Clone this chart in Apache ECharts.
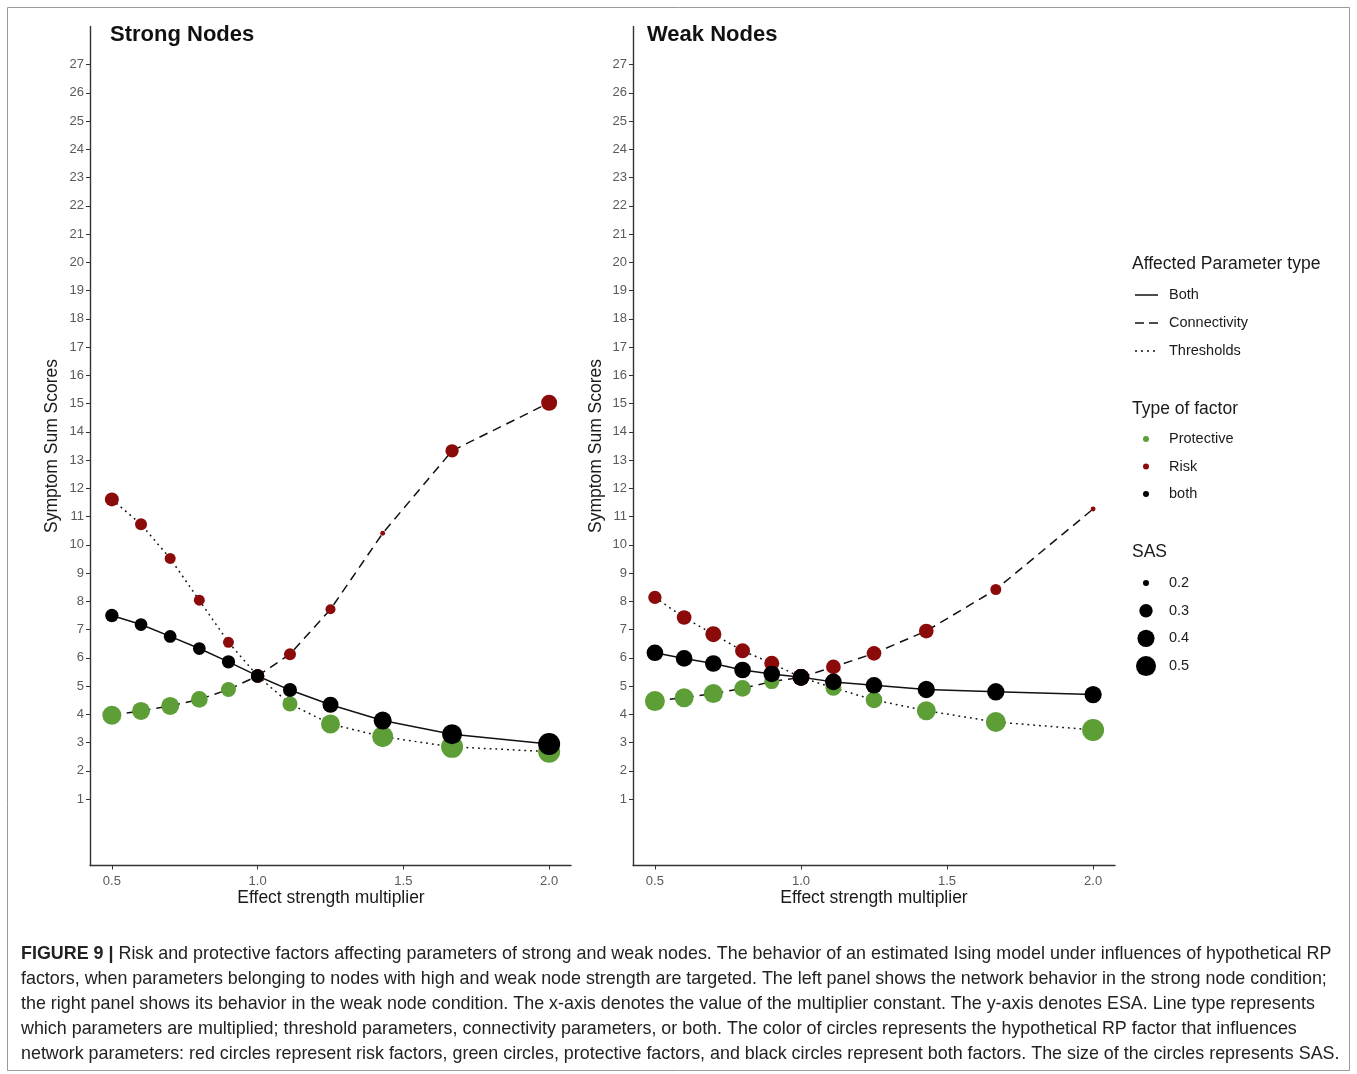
<!DOCTYPE html>
<html>
<head>
<meta charset="utf-8">
<script src="https://cdn.jsdelivr.net/npm/echarts@6.0.0/dist/echarts.min.js"></script>
<style>
html,body{margin:0;padding:0;background:#fff;}
#chart{width:1357px;height:1074px;}
</style>
</head>
<body>
<div id="chart"></div>
<script>
// ---------- data ----------
const xLow = [0.5, 0.6, 0.7, 0.8, 0.9, 1.0];
const xHigh = [1.0, 1.111, 1.25, 1.429, 1.667, 2.0];
const xAll = [0.5, 0.6, 0.7, 0.8, 0.9, 1.0, 1.111, 1.25, 1.429, 1.667, 2.0];
const xTicks = [0.5, 1.0, 1.5, 2.0];
const yTicks = [1,2,3,4,5,6,7,8,9,10,11,12,13,14,15,16,17,18,19,20,21,22,23,24,25,26,27];

// Strong nodes
const strongBothY   = [7.50, 7.18, 6.76, 6.33, 5.86, 5.36, 4.86, 4.34, 3.78, 3.30, 2.95];
const strongBothSAS = [0.298, 0.285, 0.285, 0.285, 0.298, 0.298, 0.314, 0.366, 0.428, 0.499, 0.58];
const strongRiskThrY   = [11.61, 10.73, 9.52, 8.04, 6.55, 5.36];
const strongRiskThrSAS = [0.314, 0.271, 0.253, 0.253, 0.253, 0.298];
const strongRiskConY   = [5.36, 6.13, 7.72, 10.41, 13.33, 15.03];
const strongRiskConSAS = [0.298, 0.271, 0.238, 0.196, 0.298, 0.366];
const strongProtConY   = [3.97, 4.12, 4.30, 4.53, 4.88, 5.36];
const strongProtConSAS = [0.462, 0.428, 0.428, 0.386, 0.339, 0.298];
const strongProtThrY   = [5.36, 4.37, 3.66, 3.21, 2.85, 2.68];
const strongProtThrSAS = [0.298, 0.339, 0.462, 0.539, 0.58, 0.58];

// Weak nodes
const weakBothY   = [6.18, 5.98, 5.80, 5.57, 5.43, 5.31, 5.15, 5.03, 4.88, 4.80, 4.70];
const weakBothSAS = [0.386, 0.386, 0.386, 0.386, 0.386, 0.386, 0.386, 0.386, 0.405, 0.405, 0.405];
const weakRiskThrY   = [8.14, 7.43, 6.84, 6.25, 5.81, 5.31];
const weakRiskThrSAS = [0.298, 0.331, 0.366, 0.339, 0.339, 0.386];
const weakRiskConY   = [5.31, 5.68, 6.16, 6.95, 8.42, 11.27];
const weakRiskConSAS = [0.386, 0.331, 0.331, 0.331, 0.253, 0.196];
const weakProtConY   = [4.47, 4.59, 4.74, 4.92, 5.16, 5.31];
const weakProtConSAS = [0.499, 0.462, 0.462, 0.386, 0.339, 0.386];
const weakProtThrY   = [5.31, 4.94, 4.51, 4.13, 3.73, 3.45];
const weakProtThrSAS = [0.386, 0.366, 0.386, 0.462, 0.499, 0.58];

const legendLineTypes = ['Both', 'Connectivity', 'Thresholds'];
const legendFactors = ['Protective', 'Risk', 'both'];
const legendSAS = [0.2, 0.3, 0.4, 0.5];

const captionLines = [
  ' Risk and protective factors affecting parameters of strong and weak nodes. The behavior of an estimated Ising model under influences of hypothetical RP',
  'factors, when parameters belonging to nodes with high and weak node strength are targeted. The left panel shows the network behavior in the strong node condition;',
  'the right panel shows its behavior in the weak node condition. The x-axis denotes the value of the multiplier constant. The y-axis denotes ESA. Line type represents',
  'which parameters are multiplied; threshold parameters, connectivity parameters, or both. The color of circles represents the hypothetical RP factor that influences',
  'network parameters: red circles represent risk factors, green circles, protective factors, and black circles represent both factors. The size of the circles represents SAS.'
];

// ---------- styles ----------
const GREEN = '#5d9e37';
const RED = '#8b0a0a';
const BLACK = '#000000';
const FONT = 'Liberation Sans, Arial, sans-serif';
const DASH = [9, 6];
const DOT = [1.8, 4];

function sasSize(s) { return 4 + 29 * Math.sqrt(Math.max(0, s - 0.195)); }
function pts(xs, ys, ss) { return xs.map((x, i) => [x, ys[i], ss[i]]); }
function line(xs, ys) { return xs.map((x, i) => [x, ys[i]]); }

const grids = [
  {left: 90, top: 26.5, width: 481, height: 839},
  {left: 633, top: 26.5, width: 482, height: 839}
];

function xAxis(gi) {
  return {
    type: 'value', gridIndex: gi, min: 0.425, max: 2.075,
    axisLine: {show: true, onZero: false, lineStyle: {color: '#333', width: 1.4}},
    axisTick: {show: true, length: 4, customValues: xTicks, lineStyle: {color: '#333', width: 1}},
    axisLabel: {show: true, customValues: xTicks, margin: 9, color: '#5a5a5a', fontSize: 13, fontFamily: FONT,
      formatter: v => v.toFixed(1)},
    splitLine: {show: false}
  };
}
function yAxis(gi) {
  return {
    type: 'value', gridIndex: gi, min: -1.35, max: 28.35,
    axisLine: {show: true, onZero: false, lineStyle: {color: '#333', width: 1.4}},
    axisTick: {show: true, length: 4, customValues: yTicks, lineStyle: {color: '#333', width: 1}},
    axisLabel: {show: true, customValues: yTicks, margin: 6, color: '#5a5a5a', fontSize: 13, fontFamily: FONT},
    splitLine: {show: false}
  };
}

function panelSeries(gi, d) {
  const lineS = (data, type) => ({
    type: 'line', xAxisIndex: gi, yAxisIndex: gi, data: data, showSymbol: false, symbol: 'none',
    lineStyle: {color: '#111', width: 1.5, type: type}, z: 2, silent: true, animation: false
  });
  const scat = (data, color) => ({
    type: 'scatter', xAxisIndex: gi, yAxisIndex: gi, data: data,
    symbolSize: v => sasSize(v[2]), itemStyle: {color: color, opacity: 1}, z: 3, animation: false
  });
  return [
    lineS(line(xAll, d.bothY), 'solid'),
    lineS(line(xLow, d.protConY), DASH),
    lineS(line(xHigh, d.riskConY), DASH),
    lineS(line(xLow, d.riskThrY), DOT),
    lineS(line(xHigh, d.protThrY), DOT),
    scat(pts(xLow, d.protConY, d.protConSAS), GREEN),
    scat(pts(xHigh, d.protThrY, d.protThrSAS), GREEN),
    scat(pts(xLow, d.riskThrY, d.riskThrSAS), RED),
    scat(pts(xHigh, d.riskConY, d.riskConSAS), RED),
    scat(pts(xAll, d.bothY, d.bothSAS), BLACK)
  ];
}

const strong = {bothY: strongBothY, bothSAS: strongBothSAS, riskThrY: strongRiskThrY, riskThrSAS: strongRiskThrSAS,
  riskConY: strongRiskConY, riskConSAS: strongRiskConSAS, protConY: strongProtConY, protConSAS: strongProtConSAS,
  protThrY: strongProtThrY, protThrSAS: strongProtThrSAS};
const weak = {bothY: weakBothY, bothSAS: weakBothSAS, riskThrY: weakRiskThrY, riskThrSAS: weakRiskThrSAS,
  riskConY: weakRiskConY, riskConSAS: weakRiskConSAS, protConY: weakProtConY, protConSAS: weakProtConSAS,
  protThrY: weakProtThrY, protThrSAS: weakProtThrSAS};

// ---------- graphic (titles, legends, caption) ----------
const g = [];
g.push({type: 'rect', shape: {x: 7.5, y: 7.5, width: 1342, height: 1063}, style: {fill: 'none', stroke: '#9a9a9a', lineWidth: 1}, silent: true});
function txt(x, y, text, opt) {
  g.push(Object.assign({type: 'text', x: x, y: y, silent: true,
    style: Object.assign({text: text, fill: '#1a1a1a', font: '16px ' + FONT, verticalAlign: 'middle', align: 'left'}, opt || {})}));
}
txt(110, 35, 'Strong Nodes', {font: 'bold 22px ' + FONT, fill: '#111'});
txt(647, 35, 'Weak Nodes', {font: 'bold 22px ' + FONT, fill: '#111'});
txt(331, 898, 'Effect strength multiplier', {align: 'center', font: '17.5px ' + FONT});
txt(874, 898, 'Effect strength multiplier', {align: 'center', font: '17.5px ' + FONT});
g.push({type: 'text', x: 52, y: 446, rotation: Math.PI / 2, silent: true,
  style: {text: 'Symptom Sum Scores', fill: '#1a1a1a', font: '17.5px ' + FONT, align: 'center', verticalAlign: 'middle'}});
g.push({type: 'text', x: 596, y: 446, rotation: Math.PI / 2, silent: true,
  style: {text: 'Symptom Sum Scores', fill: '#1a1a1a', font: '17.5px ' + FONT, align: 'center', verticalAlign: 'middle'}});

// legend: line types
txt(1132, 264, 'Affected Parameter type', {font: '17.5px ' + FONT});
const lineDash = [null, [9, 5], [2, 4]];
legendLineTypes.forEach((name, i) => {
  const y = 295 + i * 28;
  g.push({type: 'line', silent: true, shape: {x1: 1135, y1: y, x2: 1158, y2: y},
    style: {stroke: '#111', lineWidth: 1.5, lineDash: lineDash[i]}});
  txt(1169, y, name, {font: '14.5px ' + FONT});
});
// legend: factor
txt(1132, 409, 'Type of factor', {font: '17.5px ' + FONT});
const facColors = [GREEN, RED, BLACK];
legendFactors.forEach((name, i) => {
  const y = 439 + i * 27.5;
  g.push({type: 'circle', silent: true, shape: {cx: 1146, cy: y, r: 3}, style: {fill: facColors[i]}});
  txt(1169, y, name, {font: '14.5px ' + FONT});
});
// legend: SAS
txt(1132, 552, 'SAS', {font: '17.5px ' + FONT});
legendSAS.forEach((s, i) => {
  const y = 583 + i * 27.7;
  g.push({type: 'circle', silent: true, shape: {cx: 1146, cy: y, r: sasSize(s) / 2}, style: {fill: BLACK}});
  txt(1169, y, s.toFixed(1), {font: '14.5px ' + FONT});
});

// caption
captionLines.forEach((t, i) => {
  const y = 954 + i * 25;
  if (i === 0) {
    g.push({type: 'text', x: 21, y: y, silent: true,
      style: {text: '{b|FIGURE 9 |}' + t, fill: '#222', font: '17.9px ' + FONT, verticalAlign: 'middle',
        rich: {b: {fontWeight: 'bold', fontSize: 17.9, fontFamily: FONT, fill: '#222'}}}});
  } else {
    txt(21, y, t, {font: '17.9px ' + FONT, fill: '#222'});
  }
});

const chart = echarts.init(document.getElementById('chart'), null, {renderer: 'canvas'});
chart.setOption({
  backgroundColor: '#fff',
  animation: false,
  grid: grids,
  xAxis: [xAxis(0), xAxis(1)],
  yAxis: [yAxis(0), yAxis(1)],
  series: panelSeries(0, strong).concat(panelSeries(1, weak)),
  graphic: g
});
</script>
</body>
</html>
